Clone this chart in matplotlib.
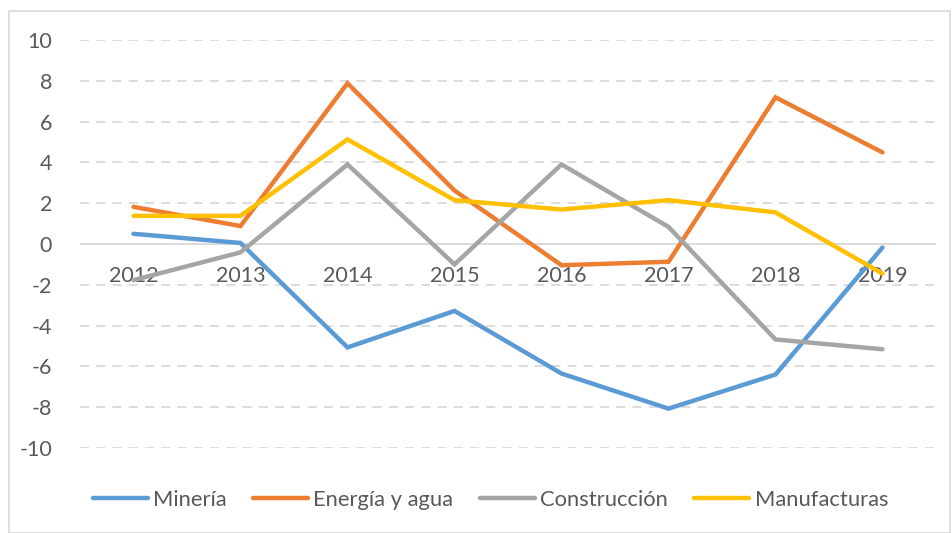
import matplotlib
matplotlib.use("Agg")
import matplotlib.pyplot as plt
from matplotlib.patches import Rectangle

years = ["2012", "2013", "2014", "2015", "2016", "2017", "2018", "2019"]
mineria = [0.5, 0.05, -5.07, -3.28, -6.35, -8.07, -6.4, -0.17]
energia = [1.82, 0.88, 7.88, 2.62, -1.04, -0.87, 7.19, 4.49]
construccion = [-1.77, -0.41, 3.9, -1.0, 3.9, 0.84, -4.68, -5.16]
manufacturas = [1.38, 1.38, 5.13, 2.15, 1.69, 2.15, 1.55, -1.45]
series_names = ["Minería", "Energía y agua", "Construcción", "Manufacturas"]
y_ticks = [10, 8, 6, 4, 2, 0, -2, -4, -6, -8, -10]

colors = ["#5B9BD5", "#ED7D31", "#A5A5A5", "#FFC000"]
txt = "#595959"
plt.rcParams['font.family'] = ['Lato', 'DejaVu Sans']

W, H = 953, 533
fig = plt.figure(figsize=(W / 100, H / 100), dpi=100)
ax = fig.add_axes([80 / W, 1 - 448 / H, (936 - 80) / W, (448 - 40) / H])

x = list(range(len(years)))
lines = []
for vals, c, name in zip([mineria, energia, construccion, manufacturas], colors, series_names):
    ln, = ax.plot(x, vals, color=c, lw=3.2, solid_joinstyle='miter', solid_capstyle='round', label=name, zorder=3)
    lines.append(ln)

ax.set_xlim(-0.5, len(years) - 0.5)
ax.set_ylim(-10, 10)
ax.set_yticks(y_ticks)
ax.set_yticklabels([str(v) for v in y_ticks])
for v in y_ticks:
    if v == 0:
        ax.axhline(0, color="#D9D9D9", lw=1.3, zorder=1)
    else:
        ax.axhline(v, color="#D9D9D9", lw=1.3, ls=(0, (5, 4)), zorder=1)

ax.set_xticks([])
for i, yr in enumerate(years):
    ax.text(i, -1.55, yr, ha='center', va='center', fontsize=15.5, color=txt, zorder=2)

for s in ax.spines.values():
    s.set_visible(False)
ax.tick_params(axis='y', length=0, pad=20, labelsize=15.5, labelcolor=txt)
ax.tick_params(axis='x', length=0)

fig.legend(handles=lines, loc='center', bbox_to_anchor=(490.5 / W, 1 - 500 / H), ncol=4, frameon=False,
           fontsize=15.8, handlelength=2.5, handletextpad=0.25, columnspacing=1.2,
           labelcolor=txt)

fig.patches.append(Rectangle((9 / W, 0), (950 - 9) / W, 1 - 11 / H, transform=fig.transFigure,
                             fill=False, edgecolor="#D9D9D9", lw=1.2))

fig.savefig("out.png", dpi=100)
